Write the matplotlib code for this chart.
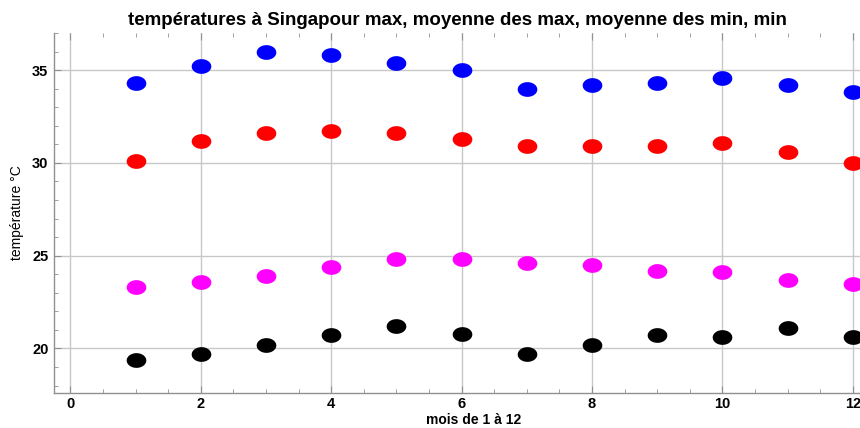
import matplotlib
matplotlib.use('Agg')
import matplotlib.pyplot as plt
from matplotlib.path import Path
from matplotlib.ticker import MultipleLocator
import numpy as np

mois = [1, 2, 3, 4, 5, 6, 7, 8, 9, 10, 11, 12]
t_max = [34.3, 35.2, 36.0, 35.8, 35.4, 35.0, 34.0, 34.2, 34.3, 34.6, 34.2, 33.8]
t_moy_max = [30.1, 31.2, 31.6, 31.7, 31.6, 31.3, 30.9, 30.9, 30.9, 31.1, 30.6, 30.0]
t_moy_min = [23.3, 23.6, 23.9, 24.4, 24.8, 24.8, 24.6, 24.5, 24.2, 24.1, 23.7, 23.5]
t_min = [19.4, 19.7, 20.2, 20.7, 21.2, 20.8, 19.7, 20.2, 20.7, 20.6, 21.1, 20.6]

series = [(t_max, 'blue'), (t_moy_max, 'red'), (t_moy_min, 'magenta'), (t_min, 'black')]

# slightly flattened dot, like the original
th = np.linspace(0, 2 * np.pi, 60)
ellipse = Path(np.column_stack([np.cos(th), 0.75 * np.sin(th)]))

plt.rcParams['font.family'] = 'Liberation Sans'

fig = plt.figure(figsize=(8.6, 4.28), dpi=100)
ax = fig.add_axes([0.0628, 0.0818, 0.9372, 0.841])

for vals, col in series:
    ax.scatter(mois, vals, s=200, marker=ellipse, color=col, zorder=3, linewidths=0)

ax.set_xlim(-0.25, 12.11)
ax.set_ylim(17.6, 37.0)
ax.xaxis.set_major_locator(MultipleLocator(2))
ax.xaxis.set_minor_locator(MultipleLocator(0.5))
ax.yaxis.set_major_locator(MultipleLocator(5))
ax.yaxis.set_minor_locator(MultipleLocator(1))
ax.grid(True, which='major', color='#c8c8c8', linewidth=1.0)
ax.set_axisbelow(True)

for s in ['top', 'right']:
    ax.spines[s].set_visible(False)
for s in ['left', 'bottom']:
    ax.spines[s].set_color('#909090')
    ax.spines[s].set_linewidth(1.0)

ax.tick_params(which='both', direction='in', top=True, color='#909090')
ax.tick_params(which='major', length=5, labelsize=10.5)
ax.tick_params(axis='x', which='major', pad=3)
ax.tick_params(axis='y', which='major', pad=4)
ax.tick_params(which='minor', length=3)
for lab in ax.get_xticklabels() + ax.get_yticklabels():
    lab.set_fontweight('bold')

ax.set_title('températures à Singapour max, moyenne des max, moyenne des min, min',
             fontsize=13.5, fontweight='bold', pad=6)
ax.set_xlabel('mois de 1 à 12', fontsize=10, fontweight='bold')
ax.xaxis.set_label_coords(0.52, -0.056)
ax.set_ylabel('température °C', fontsize=10, labelpad=6)

fig.savefig('out.png', dpi=100)
